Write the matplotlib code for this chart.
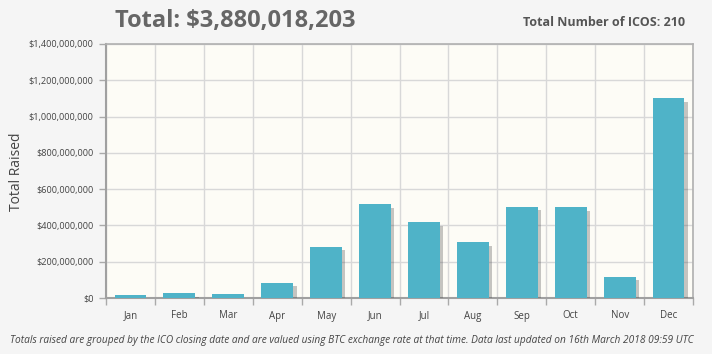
import matplotlib
matplotlib.use("Agg")
import matplotlib.pyplot as plt
import matplotlib.patheffects as pe
from matplotlib.ticker import FuncFormatter, FixedLocator
import numpy as np

months = ["Jan", "Feb", "Mar", "Apr", "May", "Jun", "Jul", "Aug", "Sep", "Oct", "Nov", "Dec"]
raised = [15e6, 26e6, 20e6, 83e6, 281e6, 516e6, 417e6, 307e6, 503e6, 500e6, 116e6, 1100e6]
yticks = [0, 200e6, 400e6, 600e6, 800e6, 1000e6, 1200e6, 1400e6]
title = "Total: $3,880,018,203"
count_text = "Total Number of ICOS: 210"
footer = ("Totals raised are grouped by the ICO closing date and are valued using BTC exchange rate "
          "at that time. Data last updated on 16th March 2018 09:59 UTC")

plt.rcParams['font.family'] = ['Open Sans', 'DejaVu Sans']

fig = plt.figure(figsize=(7.12, 3.54), dpi=100)
fig.patch.set_facecolor("#f5f5f5")
ax = fig.add_axes([106/712, 1-298/354, (693-106)/712, (298-44)/354])
ax.set_facecolor("#fdfcf6")

x = np.arange(len(months))
bars = ax.bar(x, raised, width=0.65, color="#4fb3c8", zorder=3)
for b in bars:
    b.set_path_effects([pe.SimplePatchShadow(offset=(2.5, -2.5), shadow_rgbFace="#444444", alpha=0.3),
                        pe.Normal()])

ax.set_xlim(-0.5, len(months) - 0.5)
ax.set_ylim(0, 1400e6)
ax.set_yticks(yticks)
ax.yaxis.set_major_formatter(FuncFormatter(lambda v, p: "${:,.0f}".format(v)))
ax.set_xticks(x)
ax.set_xticklabels(months)
ax.xaxis.set_minor_locator(FixedLocator(np.arange(-0.5, len(months), 1.0)))
ax.tick_params(axis='x', which='major', length=0, pad=9, labelsize=7, labelcolor="#444444")
ax.tick_params(axis='x', which='minor', length=5, color="#aaaaaa", width=1)
ax.tick_params(axis='y', which='major', length=5, color="#aaaaaa", width=1, labelsize=6.6,
               labelcolor="#444444", pad=4)

ax.grid(True, axis='y', which='major', color="#d8d8d8", linewidth=1, zorder=0)
ax.grid(True, axis='x', which='minor', color="#d8d8d8", linewidth=1, zorder=0)
ax.set_axisbelow(True)

for s in ['left', 'bottom']:
    ax.spines[s].set_color("#a0a0a0")
    ax.spines[s].set_linewidth(1.5)
for s in ['top', 'right']:
    ax.spines[s].set_color("#b0b0b0")
    ax.spines[s].set_linewidth(1.2)
ax.spines['right'].set_path_effects([pe.SimplePatchShadow(offset=(2, -1), alpha=0.3), pe.Normal()])

fig.text(17/712, 1-172/354, "Total Raised", rotation=90, ha='center', va='center', fontsize=10, color="#444444")

fig.text(235/712, 1-21/354, title, ha='center', va='center', fontsize=17, fontweight='bold', color="#666666")
fig.text(685/712, 1-22/354, count_text, ha='right', va='center', fontsize=9, fontweight='bold', color="#555555")
fig.text(352/712, 1-340/354, footer, ha='center', va='center', fontsize=7.3, style='italic', color="#444444")

fig.savefig("out.png", dpi=100, facecolor=fig.get_facecolor())
